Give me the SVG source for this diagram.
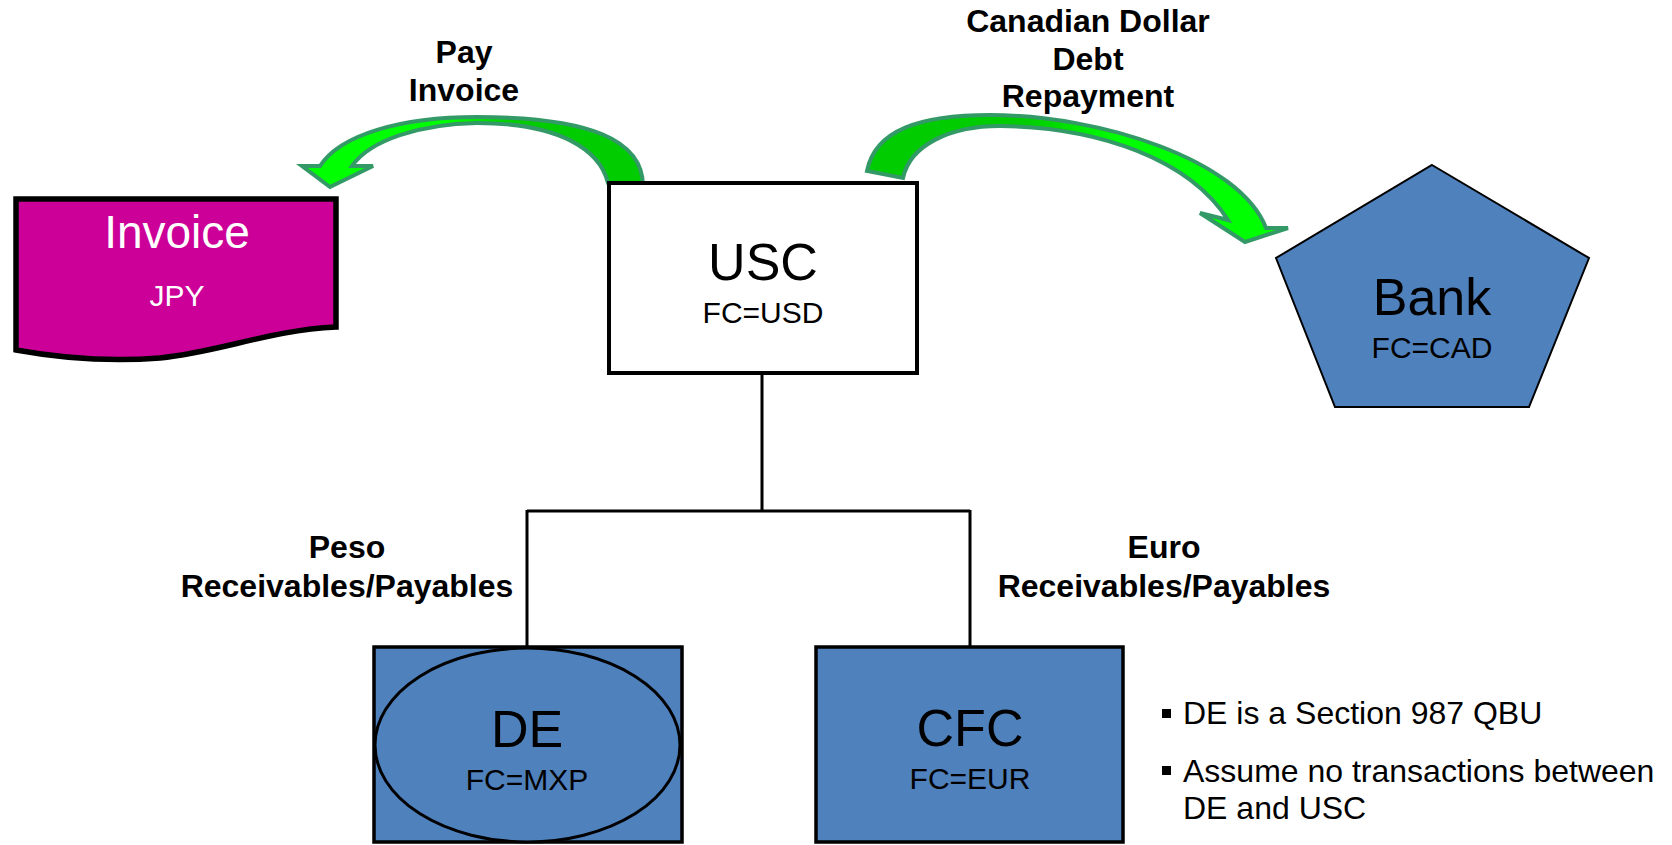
<svg xmlns="http://www.w3.org/2000/svg" width="1672" height="845" viewBox="0 0 1672 845">
  <style>
    text { font-family: "Liberation Sans", Arial, sans-serif; }
    .lbl { font-size: 32px; font-weight: bold; fill: #000; text-anchor: middle; }
    .name { font-size: 52px; fill: #000; text-anchor: middle; }
    .fc { font-size: 30px; fill: #000; text-anchor: middle; }
    .note { font-size: 32px; fill: #000; }
    .blue { fill: #4F81BD; stroke: #000; }
    .wire { fill: none; stroke: #000; stroke-width: 3; }
    .flow { stroke: #339966; stroke-width: 4; stroke-linejoin: miter; }
  </style>
  <defs>
    <linearGradient id="gPay" x1="300" y1="0" x2="645" y2="0" gradientUnits="userSpaceOnUse">
      <stop offset="0" stop-color="#00FF00"/>
      <stop offset="0.42" stop-color="#00FF00"/>
      <stop offset="0.62" stop-color="#00CC00"/>
      <stop offset="1" stop-color="#00CC00"/>
    </linearGradient>
    <linearGradient id="gCad" x1="865" y1="0" x2="1290" y2="0" gradientUnits="userSpaceOnUse">
      <stop offset="0" stop-color="#00CC00"/>
      <stop offset="0.38" stop-color="#00CC00"/>
      <stop offset="0.6" stop-color="#00FF00"/>
      <stop offset="1" stop-color="#00FF00"/>
    </linearGradient>
  </defs>

  <rect width="1672" height="845" fill="#fff"/>

  <!-- tree connectors -->
  <g id="connectors">
    <path class="wire" d="M762,374 V511 M527,511 H970 M527,510 V647 M970,510 V647"/>
    <path id="pay-arrow" class="flow" fill="url(#gPay)"
          d="M643,186 C643,140 590,117 477,117 C400,117 340,135 320,166 L302,166 L330,187 L373,166 L352,166 C370,140 420,124 477,123 C560,123 600,150 608,183 Z"/>
    <path id="cad-arrow" class="flow" fill="url(#gCad)"
          d="M867,171 C875,130 920,115 990,115 C1100,115 1240,160 1266,228 L1288,228 L1245,242 L1200,213 L1228,220 C1190,160 1100,127 1000,126 C950,126 910,145 903,178 Z"/>
  </g>

  <!-- flow labels -->
  <g id="labels">
    <text class="lbl" x="464" y="63">Pay</text>
    <text class="lbl" x="464" y="101">Invoice</text>
    <text class="lbl" x="1088" y="32">Canadian Dollar</text>
    <text class="lbl" x="1088" y="70">Debt</text>
    <text class="lbl" x="1088" y="107">Repayment</text>
    <text class="lbl" x="347" y="558">Peso</text>
    <text class="lbl" x="347" y="597">Receivables/Payables</text>
    <text class="lbl" x="1164" y="558">Euro</text>
    <text class="lbl" x="1164" y="597">Receivables/Payables</text>
  </g>

  <g id="invoice">
    <path d="M16,199 H336 V327 C270,330 220,352 160,358 C110,362 60,358 16,350 Z" fill="#CC0099" stroke="#000" stroke-width="5.5"/>
    <text x="177" y="248" font-size="46" fill="#fff" text-anchor="middle">Invoice</text>
    <text x="177" y="306" font-size="30" fill="#fff" text-anchor="middle">JPY</text>
  </g>

  <g id="usc">
    <rect x="609" y="183" width="308" height="190" fill="#fff" stroke="#000" stroke-width="4"/>
    <text class="name" x="763" y="280">USC</text>
    <text class="fc" x="763" y="323">FC=USD</text>
  </g>

  <g id="bank">
    <polygon class="blue" stroke-width="2" points="1432,165 1589,258 1529,407 1335,407 1276,258"/>
    <text class="name" x="1432" y="315">Bank</text>
    <text class="fc" x="1432" y="358">FC=CAD</text>
  </g>

  <g id="de">
    <rect class="blue" stroke-width="3.5" x="374" y="647" width="308" height="195"/>
    <ellipse class="blue" stroke-width="3" cx="527.5" cy="745" rx="152.5" ry="97"/>
    <text class="name" x="527" y="747">DE</text>
    <text class="fc" x="527" y="790">FC=MXP</text>
  </g>

  <g id="cfc">
    <rect class="blue" stroke-width="3.5" x="816" y="647" width="307" height="195"/>
    <text class="name" x="970" y="746">CFC</text>
    <text class="fc" x="970" y="789">FC=EUR</text>
  </g>

  <g id="notes">
    <rect x="1162" y="709" width="9" height="9" fill="#000"/>
    <rect x="1162" y="766" width="9" height="9" fill="#000"/>
    <text class="note" x="1183" y="724">DE is a Section 987 QBU</text>
    <text class="note" x="1183" y="782">Assume no transactions between</text>
    <text class="note" x="1183" y="819">DE and USC</text>
  </g>
</svg>
